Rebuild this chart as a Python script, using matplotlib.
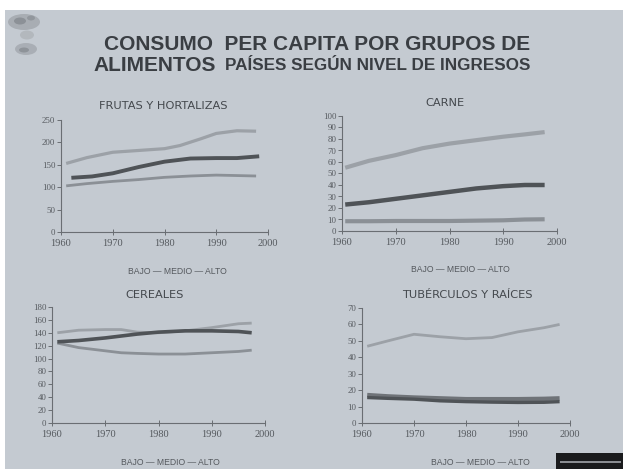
import matplotlib.pyplot as plt
from matplotlib.patches import Rectangle, Ellipse

W, H = 623, 469
BG = "#c4cad1"
C_ALTO = "#9ca1a7"
C_MEDIO = "#4f5357"
C_BAJO = "#8b9096"
TXT = "#55595e"

# consumo per cápita por grupo de alimentos (valores leídos por año)
frutas_years_a = [1961, 1965, 1970, 1975, 1980, 1983, 1987, 1990, 1994, 1997.7]
frutas_alto = [153, 166, 178, 182, 186, 193, 208, 220, 226, 225]
frutas_years_m = [1962, 1966, 1970, 1975, 1980, 1985, 1990, 1994, 1998.3]
frutas_medio = [121, 124, 131, 145, 157, 164, 165, 165, 169]
frutas_years_b = [1961, 1965, 1970, 1975, 1980, 1985, 1990, 1994, 1997.7]
frutas_bajo = [103, 108, 113, 117, 122, 125, 127, 126, 125]

carne_years = [1960.6, 1965, 1970, 1975, 1980, 1985, 1990, 1994, 1997.7]
carne_alto = [55, 61, 66, 72, 76, 79, 82, 84, 86]
carne_medio = [23, 25, 28, 31, 34, 37, 39, 40, 40]
carne_bajo = [8.5, 8.5, 8.7, 8.7, 8.7, 9, 9.3, 10, 10.2]

cereales_years = [1961, 1965, 1970, 1973, 1976, 1980, 1985, 1990, 1995, 1997.5]
cereales_alto = [140, 144, 145, 145, 141, 140, 143, 148, 154, 155]
cereales_medio = [126, 128, 132, 135, 138, 141, 143, 143, 142, 140]
cereales_bajo = [124, 117, 112, 109, 108, 107, 107, 109, 111, 113]

tuber_years = [1961, 1965, 1970, 1975, 1980, 1985, 1990, 1995, 1998]
tuber_alto = [46.7, 50, 54, 52.5, 51.3, 52, 55.5, 58, 60]
tuber_medio = [15.5, 15, 14.5, 13.5, 13, 12.7, 12.5, 12.6, 13]
tuber_bajo = [17, 16.2, 15.5, 15, 14.5, 14.5, 14.5, 14.7, 15]

panels = [
    ("FRUTAS Y HORTALIZAS", (61, 120, 268, 232), (0, 250), 50,
     [(frutas_years_a, frutas_alto, C_ALTO, 2.3),
      (frutas_years_b, frutas_bajo, C_BAJO, 2.0),
      (frutas_years_m, frutas_medio, C_MEDIO, 2.8)],
     (163, 106), (177, 272)),
    ("CARNE", (342, 116, 557, 231), (0, 100), 10,
     [(carne_years, carne_alto, C_ALTO, 3.0),
      (carne_years, carne_bajo, C_BAJO, 3.0),
      (carne_years, carne_medio, C_MEDIO, 3.2)],
     (445, 103), (460, 269)),
    ("CEREALES", (52, 307, 265, 423), (0, 180), 20,
     [(cereales_years, cereales_alto, C_ALTO, 2.0),
      (cereales_years, cereales_bajo, C_BAJO, 2.0),
      (cereales_years, cereales_medio, C_MEDIO, 2.6)],
     (155, 295), (170, 462)),
    ("TUBÉRCULOS Y RAÍCES", (362, 308, 570, 423), (0, 70), 10,
     [(tuber_years, tuber_alto, C_ALTO, 2.0),
      (tuber_years, tuber_bajo, "#6f7378", 3.2),
      (tuber_years, tuber_medio, C_MEDIO, 2.4)],
     (467, 295), (480, 462)),
]

fig = plt.figure(figsize=(W / 100, H / 100), dpi=100)
fig.patch.set_facecolor(BG)
# bordes blancos del escaneo
fig.patches.append(Rectangle((0, 1 - 10 / H), 1, 10 / H, transform=fig.transFigure,
                             facecolor="white", edgecolor="none"))
fig.patches.append(Rectangle((0, 0), 5 / W, 1, transform=fig.transFigure,
                             facecolor="white", edgecolor="none"))

# logo gris en la esquina
for (cx, cy, ew, eh, col) in [(24, 22, 32, 16, "#a3a8ae"), (20, 21, 12, 7, "#878c92"),
                              (31, 18, 8, 5, "#8f949a"), (27, 35, 14, 9, "#b0b5ba"),
                              (26, 49, 22, 12, "#a5aab0"), (24, 50, 10, 5, "#8a8f95")]:
    fig.patches.append(Ellipse((cx / W, 1 - cy / H), ew / W, eh / H, transform=fig.transFigure,
                               facecolor=col, edgecolor="none", alpha=0.85))

# título
TITLE_C = "#3a3e43"
fig.text(317 / W, 1 - 45 / H, "CONSUMO  PER CAPITA POR GRUPOS DE", ha="center", va="center",
         fontsize=15, fontweight="bold", color=TITLE_C, family="Liberation Sans")
fig.text(93 / W, 1 - 65 / H, "ALIMENTOS", ha="left", va="center",
         fontsize=15, fontweight="bold", color=TITLE_C, family="Liberation Sans")
fig.text(225 / W, 1 - 66 / H, "PAÍSES SEGÚN NIVEL DE INGRESOS", ha="left", va="center",
         fontsize=12.3, fontweight="bold", color=TITLE_C, family="Liberation Sans")

for title, (x0, y0, x1, y1), (ymin, ymax), step, series, tpos, lpos in panels:
    ax = fig.add_axes([x0 / W, 1 - y1 / H, (x1 - x0) / W, (y1 - y0) / H])
    ax.set_facecolor("none")
    for yrs, vals, col, lw in series:
        ax.plot(yrs, vals, color=col, lw=lw, solid_capstyle="butt")
    ax.set_xlim(1960, 2000)
    ax.set_ylim(ymin, ymax)
    ax.set_xticks(range(1960, 2001, 10))
    ax.set_yticks(range(ymin, ymax + 1, step))
    for s in ("top", "right"):
        ax.spines[s].set_visible(False)
    for s in ("left", "bottom"):
        ax.spines[s].set_color("#6a6e73")
        ax.spines[s].set_linewidth(0.8)
    ax.tick_params(axis="y", direction="out", length=3, width=0.7, color="#6a6e73",
                   labelsize=6.3, labelcolor=TXT, pad=1)
    ax.tick_params(axis="x", direction="inout", length=4, width=0.7, color="#6a6e73",
                   labelsize=7.5, labelcolor=TXT, pad=3)
    for lab in ax.get_xticklabels() + ax.get_yticklabels():
        lab.set_family("Liberation Serif")
    fig.text(tpos[0] / W, 1 - tpos[1] / H, title, ha="center", va="center",
             fontsize=8.2, color="#44484d", family="DejaVu Sans")
    fig.text(lpos[0] / W, 1 - lpos[1] / H, "BAJO — MEDIO — ALTO", ha="center", va="center",
             fontsize=6.2, color=TXT, family="Liberation Sans")

# recuadro oscuro inferior derecho
fig.patches.append(Rectangle((556 / W, 0), (W - 556) / W, 16 / H, transform=fig.transFigure,
                             facecolor="#1a1b1d", edgecolor="none"))
fig.patches.append(Rectangle((560 / W, 6 / H), (W - 562) / W, 2 / H, transform=fig.transFigure,
                             facecolor="#8a8d92", edgecolor="none"))

fig.savefig("out.png", dpi=100, facecolor=fig.get_facecolor())
